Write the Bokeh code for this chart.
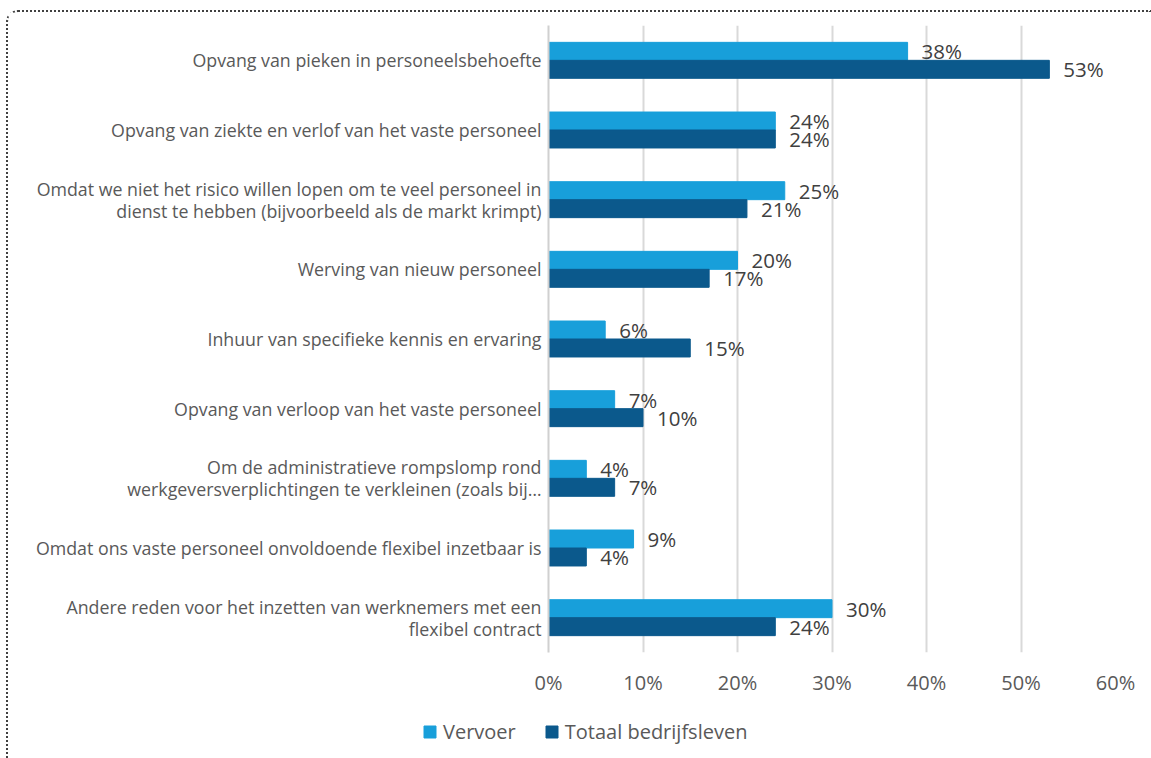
from bokeh.plotting import figure
from bokeh.models import (FactorRange, Range1d, FixedTicker, ColumnDataSource,
                          Legend, LegendItem)
from bokeh.layouts import column
from bokeh.transform import dodge
from bokeh.core.properties import value
from bokeh.embed import file_html
from bokeh.resources import INLINE

categories = [
    "Opvang van pieken in personeelsbehoefte",
    "Opvang van ziekte en verlof van het vaste personeel",
    "Omdat we niet het risico willen lopen om te veel personeel in\ndienst te hebben (bijvoorbeeld als de markt krimpt)",
    "Werving van nieuw personeel",
    "Inhuur van specifieke kennis en ervaring",
    "Opvang van verloop van het vaste personeel",
    "Om de administratieve rompslomp rond\nwerkgeversverplichtingen te verkleinen (zoals bij…",
    "Omdat ons vaste personeel onvoldoende flexibel inzetbaar is",
    "Andere reden voor het inzetten van werknemers met een\nflexibel contract",
]
vervoer = [38, 24, 25, 20, 6, 7, 4, 9, 30]
totaal = [53, 24, 21, 17, 15, 10, 7, 4, 24]
series_names = ["Vervoer", "Totaal bedrijfsleven"]
x_ticks = [0, 10, 20, 30, 40, 50, 60]
x_tick_labels = ["0%", "10%", "20%", "30%", "40%", "50%", "60%"]

LIGHT = "#189FDA"
DARK = "#0B598C"
FONT = "Open Sans"

src = ColumnDataSource(dict(
    cat=categories,
    vervoer=vervoer,
    totaal=totaal,
    vlab=[f"{v}%" for v in vervoer],
    tlab=[f"{v}%" for v in totaal],
))

p = figure(
    y_range=FactorRange(factors=list(reversed(categories))),
    x_range=Range1d(0, 60),
    width=1143, height=688,
    min_border_left=540, min_border_right=36,
    min_border_top=13, min_border_bottom=48,
    output_backend="svg", toolbar_location=None,
    background_fill_color="white", border_fill_color="white",
)
p.outline_line_color = None
p.frame_align = False

off = 0.129
hb = 0.258
r1 = p.hbar(y=dodge("cat", off, range=p.y_range), left=0, right="vervoer",
            height=hb, source=src, fill_color=LIGHT, line_color=LIGHT)
r2 = p.hbar(y=dodge("cat", -off, range=p.y_range), left=0, right="totaal",
            height=hb, source=src, fill_color=DARK, line_color=DARK)

for col, lab, o in (("vervoer", "vlab", off), ("totaal", "tlab", -off)):
    p.text(x=col, y=dodge("cat", o, range=p.y_range), text=lab, source=src,
           x_offset=14, text_baseline="middle", text_align="left",
           text_font=value(FONT), text_font_size="20.5px", text_color="#404040")

# axes
p.xaxis.ticker = FixedTicker(ticks=x_ticks)
p.xaxis.major_label_overrides = dict(zip(x_ticks, x_tick_labels))
p.xaxis.axis_line_color = None
p.xaxis.major_tick_line_color = None
p.xaxis.minor_tick_line_color = None
p.xaxis.major_tick_out = 0
p.xaxis.major_label_standoff = 16
p.xaxis.major_label_text_font = FONT
p.xaxis.major_label_text_font_size = "20px"
p.xaxis.major_label_text_color = "#595959"

p.yaxis.axis_line_color = "#d0d0d0"
p.yaxis.axis_line_width = 2
p.yaxis.major_tick_line_color = None
p.yaxis.minor_tick_line_color = None
p.yaxis.major_tick_out = 0
p.yaxis.major_label_standoff = 7
p.yaxis.major_label_text_font = FONT
p.yaxis.major_label_text_font_size = "17.8px"
p.yaxis.major_label_text_line_height = 0.93
p.yaxis.major_label_text_color = "#595959"

p.xgrid.ticker = FixedTicker(ticks=x_ticks)
p.xgrid.grid_line_color = "#d9d9d9"
p.xgrid.grid_line_width = 2
p.ygrid.grid_line_color = None

# legend strip
lf = figure(width=1143, height=58, x_range=Range1d(0, 1), y_range=Range1d(0, 1),
            min_border=0, output_backend="svg", toolbar_location=None,
            background_fill_color="white", border_fill_color="white")
lf.frame_align = False
lf.outline_line_color = None
lf.axis.visible = False
lf.grid.visible = False
hidden = ColumnDataSource(dict(y=[-10], l=[0], r=[1]))
lr1 = lf.hbar(y="y", left="l", right="r", height=0.1, source=hidden,
              fill_color=LIGHT, line_color=LIGHT)
lr2 = lf.hbar(y="y", left="l", right="r", height=0.1, source=hidden,
              fill_color=DARK, line_color=DARK)
legend = Legend(
    items=[LegendItem(label=series_names[0], renderers=[lr1]),
           LegendItem(label=series_names[1], renderers=[lr2])],
    orientation="horizontal", location=(414, 13),
    glyph_width=15, glyph_height=15, label_standoff=6, spacing=28,
    padding=0, margin=0, border_line_color=None, background_fill_alpha=0,
    label_text_font=FONT, label_text_font_size="20px", label_text_color="#595959",
)
lf.add_layout(legend, "center")

layout = column(p, lf, spacing=0, styles={
    "margin-left": "6px", "margin-top": "10px",
    "border-style": "dotted none none dotted",
    "border-width": "2px 0px 0px 2px",
    "border-color": "#404040 transparent transparent #404040",
    "border-top-left-radius": "12px",
})

open("out.html", "w").write(file_html(layout, INLINE))
